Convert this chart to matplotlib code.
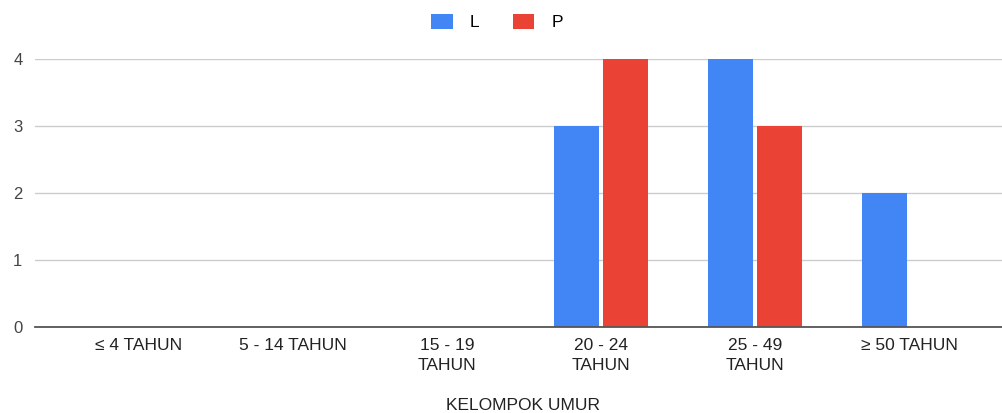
import matplotlib.pyplot as plt
import numpy as np

plt.rcParams['font.family'] = ['Liberation Sans', 'DejaVu Sans']

# Data
kelompok = ['≤ 4 TAHUN', '5 - 14 TAHUN', '15 - 19\nTAHUN', '20 - 24\nTAHUN',
            '25 - 49\nTAHUN', '≥ 50 TAHUN']
laki = [0, 0, 0, 3, 4, 2]
perempuan = [0, 0, 0, 4, 3, 0]
y_ticks = [0, 1, 2, 3, 4]

fig = plt.figure(figsize=(10.03, 4.13), dpi=100)
ax = fig.add_axes([35 / 1003, 86 / 413, 968 / 1003, 268 / 413])

x = np.arange(len(kelompok))
w = 0.29
ax.bar(x - 0.158, laki, width=w, color='#4285F4', label='L', zorder=3)
ax.bar(x + 0.16, perempuan, width=w, color='#EA4335', label='P', zorder=3)

ax.set_xlim(-0.675, 5.61)
ax.set_ylim(0, 4)
ax.set_yticks(y_ticks)
ax.set_xticks(x)
ax.set_xticklabels(kelompok, fontsize=12.5, color='#222222', linespacing=1.4)
ax.tick_params(axis='both', length=0)
ax.tick_params(axis='x', pad=8)
ax.tick_params(axis='y', pad=9, labelsize=12, labelcolor='#444444')

ax.grid(axis='y', color='#cccccc', linewidth=1, zorder=0)
for s in ['top', 'right', 'left']:
    ax.spines[s].set_visible(False)
ax.spines['bottom'].set_color('#555555')
ax.spines['bottom'].set_linewidth(1.3)
ax.spines['bottom'].set_zorder(4)

fig.text(523 / 1003, 1 - 405 / 413, 'KELOMPOK UMUR', ha='center', va='center',
         fontsize=12.5, color='#222222')

fig.legend(loc='center', bbox_to_anchor=(497 / 1003, 1 - 22 / 413), ncol=2,
           frameon=False, fontsize=12.5, handlelength=1.25, handleheight=1.0,
           columnspacing=1.9, handletextpad=1.0)

fig.savefig('out.png', dpi=100)
